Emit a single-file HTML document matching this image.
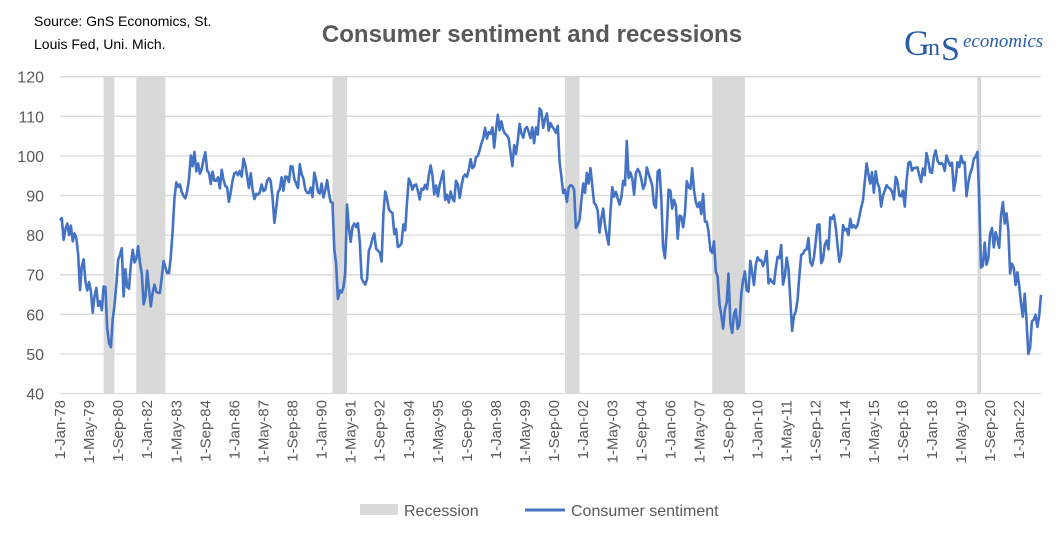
<!DOCTYPE html>
<html><head><meta charset="utf-8"><style>
body{margin:0;background:#fff;width:1064px;height:540px;overflow:hidden;font-family:"Liberation Sans",sans-serif}
</style></head><body>
<svg id="chart" width="1064" height="540" xmlns="http://www.w3.org/2000/svg" font-family="Liberation Sans, sans-serif">
<rect width="1064" height="540" fill="#fff"/>
<text x="34" y="26" font-size="14" fill="#000">Source: GnS Economics, St.</text>
<text x="34" y="49" font-size="14" fill="#000">Louis Fed, Uni. Mich.</text>
<text x="532" y="42" font-size="24" font-weight="bold" fill="#595959" text-anchor="middle">Consumer sentiment and recessions</text>
<g>
<text x="904" y="55" font-family="Liberation Serif, serif" font-size="36" fill="#2a5ca8">G</text>
<text x="928" y="55" font-family="Liberation Serif, serif" font-size="24" fill="#2a5ca8">n</text>
<text x="941" y="60" font-family="Liberation Serif, serif" font-size="34" fill="#2a5ca8">S</text>
<text x="963" y="47" font-family="Liberation Serif, serif" font-style="italic" font-size="19" fill="#2a5ca8">economics</text>
</g>
<g id="grid"></g><g id="rec"></g><g id="yl"></g><g id="xl"></g><g id="ln"></g>
<g>
<rect x="360" y="504" width="38" height="11" fill="#d9d9d9"/>
<text x="404" y="516" font-size="16" fill="#595959">Recession</text>
<line x1="525" y1="510" x2="565" y2="510" stroke="#4472c4" stroke-width="3"/>
<text x="571" y="516" font-size="16" fill="#595959">Consumer sentiment</text>
</g>
</svg>
<script>
const yTicks=[40,50,60,70,80,90,100,110,120];
const xTickLabels=["1-Jan-78","1-May-79","1-Sep-80","1-Jan-82","1-May-83","1-Sep-84","1-Jan-86","1-May-87","1-Sep-88","1-Jan-90","1-May-91","1-Sep-92","1-Jan-94","1-May-95","1-Sep-96","1-Jan-98","1-May-99","1-Sep-00","1-Jan-02","1-May-03","1-Sep-04","1-Jan-06","1-May-07","1-Sep-08","1-Jan-10","1-May-11","1-Sep-12","1-Jan-14","1-May-15","1-Sep-16","1-Jan-18","1-May-19","1-Sep-20","1-Jan-22"];
const recStart=[24,42,150,278,359,505];
const recEnd=[30,58,158,286,377,507];
const sentiment=[
83.7,84.3,78.8,81.6,82.9,80.0,82.4,78.4,80.4,79.3,75.0,66.1,
72.1,73.9,68.4,66.0,68.1,65.8,60.4,64.5,66.7,62.1,63.3,61.0,
67.0,66.9,56.5,52.7,51.7,58.7,62.3,67.4,73.7,75.0,76.7,64.5,
71.4,66.9,66.5,72.4,76.3,73.1,74.1,77.2,73.1,70.3,62.5,64.3,
71.0,66.5,62.0,65.5,67.5,65.7,65.4,65.4,69.3,73.4,71.9,70.4,
70.4,74.6,80.8,89.1,93.3,92.2,92.8,90.9,89.9,89.3,91.1,94.2,
100.1,97.4,101.0,96.1,98.1,95.5,96.6,99.1,100.9,96.3,95.7,92.9,
96.0,93.7,93.7,94.6,91.8,96.5,94.0,92.4,92.1,88.4,90.9,93.9,
95.6,95.9,95.1,96.2,94.8,99.3,97.7,94.9,91.9,95.6,91.4,89.1,
90.4,90.2,90.8,92.8,91.1,91.5,93.7,94.4,93.6,89.3,83.1,86.8,
90.8,91.6,94.6,91.2,94.8,94.7,93.4,97.4,97.3,94.1,93.0,91.9,
97.9,95.4,94.3,91.5,90.7,90.6,92.0,89.6,95.8,93.9,90.9,90.5,
93.0,89.5,91.3,93.9,90.6,88.3,88.2,76.4,72.8,63.9,66.0,65.5,
66.8,70.4,87.7,81.8,78.3,82.1,82.9,82.0,83.0,78.3,69.1,68.2,
67.5,68.8,76.0,77.2,79.2,80.4,76.6,76.1,75.6,73.3,85.3,91.0,
89.3,86.6,85.9,85.6,80.3,81.5,77.0,77.3,77.9,82.7,81.2,88.2,
94.3,93.2,91.5,92.6,92.8,91.2,89.0,91.7,91.5,92.7,91.6,95.1,
97.6,95.1,90.3,92.5,89.8,92.7,94.4,96.2,88.9,90.2,88.2,91.0,
89.3,88.5,93.7,92.7,89.4,92.4,94.7,95.3,94.7,96.5,99.2,96.9,
97.4,99.7,100.0,101.4,103.2,104.5,107.1,104.4,106.0,105.6,107.2,102.1,
106.6,110.4,106.5,108.7,106.5,105.6,105.2,104.4,100.9,97.4,102.7,100.5,
103.9,108.1,105.7,104.6,106.8,107.3,106.0,104.5,107.2,103.2,107.2,105.4,
112.0,111.3,107.1,109.2,110.7,106.4,108.3,107.3,106.8,105.8,107.6,98.4,
94.7,90.6,91.5,88.4,92.0,92.6,92.4,91.5,81.8,82.7,83.9,88.8,
93.0,90.7,95.7,93.0,96.9,92.4,88.1,87.6,86.1,80.6,84.2,86.7,
82.4,79.9,77.6,86.0,92.1,89.7,90.9,89.3,87.7,89.6,93.7,92.6,
103.8,94.4,95.8,94.2,90.2,95.6,96.7,95.9,94.2,91.7,92.8,97.1,
95.5,94.1,92.6,87.7,86.9,96.0,96.5,89.1,76.9,74.2,81.6,91.5,
91.2,86.7,88.9,87.4,79.1,84.9,84.7,82.0,85.4,93.6,92.1,91.7,
96.9,91.3,88.4,87.1,88.3,85.3,90.4,83.4,83.4,80.9,76.1,75.5,
78.4,70.8,69.5,62.6,59.8,56.4,61.2,63.0,70.3,57.6,55.3,60.1,
61.2,56.3,57.3,65.1,68.7,70.8,66.0,65.7,73.5,70.6,67.4,72.5,
74.4,73.6,73.6,72.2,73.6,76.0,67.8,68.9,68.2,67.7,71.6,74.5,
74.2,77.5,67.5,69.8,74.3,71.5,63.7,55.8,59.5,60.8,63.7,69.9,
75.0,75.3,76.2,76.4,79.3,73.2,72.3,74.3,78.3,82.6,82.7,72.9,
73.8,77.6,78.6,76.4,84.5,84.1,85.1,82.1,77.5,73.2,75.1,82.5,
81.2,81.6,80.0,84.1,81.9,82.5,81.8,82.5,84.6,86.9,88.8,93.6,
98.1,95.4,93.0,95.9,90.7,96.1,93.1,91.9,87.2,90.0,91.3,92.6,
92.0,91.7,91.0,89.0,94.7,93.5,90.0,89.8,91.2,87.2,93.8,98.2,
98.5,96.3,96.9,97.0,97.1,95.1,93.4,96.8,95.1,100.7,98.5,95.9,
95.7,99.7,101.4,98.8,98.0,98.2,97.9,96.2,100.1,98.6,97.5,98.3,
91.2,93.8,98.4,97.2,100.0,98.2,98.4,89.8,93.2,95.5,96.8,99.3,
99.8,101.0,89.1,71.8,72.3,78.1,72.5,74.1,80.4,81.8,76.9,80.7,
79.0,76.8,84.9,88.3,82.9,85.5,81.2,70.3,72.8,71.7,67.4,70.6,
67.2,62.8,59.4,65.2,58.4,50.0,51.5,58.2,58.6,59.9,56.8,59.7,
64.9];
const NS="http://www.w3.org/2000/svg";
const X0=60,X1=1041,YT=76.7,YB=393.5;
const nM=sentiment.length-1;
function xs(m){return X0+(X1-X0)*m/nM;}
function ys(v){return YB-(v-40)/80*(YB-YT);}
function mk(t,a,p){const e=document.createElementNS(NS,t);for(const k in a)e.setAttribute(k,a[k]);p.appendChild(e);return e;}
const grid=document.getElementById('grid'),yl=document.getElementById('yl'),xl=document.getElementById('xl'),rec=document.getElementById('rec'),ln=document.getElementById('ln');
yTicks.forEach(v=>{
 const g=mk('line',{x1:X0,x2:X1,y1:ys(v),y2:ys(v),stroke:'#d9d9d9','stroke-width':1.3},grid);
 
 
 const t=mk('text',{x:44,y:ys(v)+6,'font-size':16,fill:'#595959','text-anchor':'end'},yl);
 t.textContent=v;
 
 
});
recStart.forEach((s,i)=>{
 const r=mk('rect',{x:xs(s),y:YT,width:xs(recEnd[i])-xs(s),height:YB-YT,fill:'#d9d9d9'},rec);
 
 
});
xTickLabels.forEach((l,i)=>{
 const x=xs(i*16)+5;
 const t=mk('text',{x:x,y:400,'font-size':15,fill:'#595959','text-anchor':'end',transform:'rotate(-90 '+x+' 400)'},xl);
 t.textContent=l;
 
 
});
const pts=sentiment.map((v,i)=>xs(i).toFixed(1)+','+ys(v).toFixed(1)).join(' ');
const pl=mk('polyline',{points:pts,fill:'none',stroke:'#4472c4','stroke-width':2.6,'stroke-linejoin':'round'},ln);


</script>
</body></html>
